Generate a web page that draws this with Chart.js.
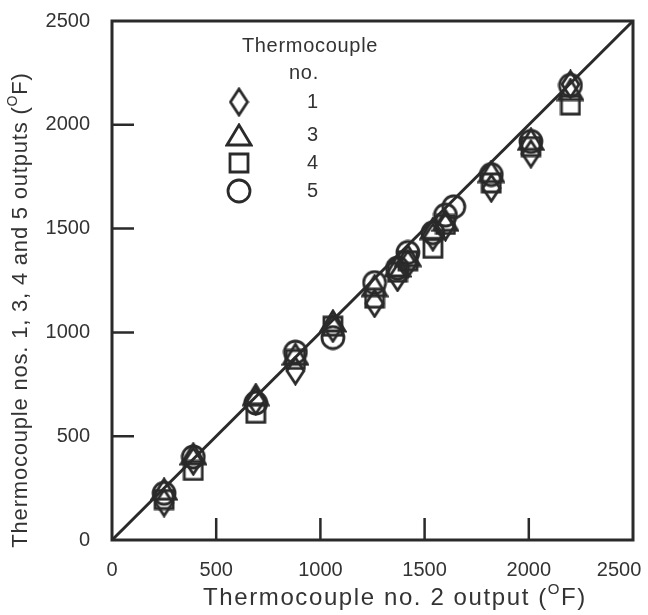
<!DOCTYPE html>
<html>
<head>
<meta charset="utf-8">
<script src="https://cdn.jsdelivr.net/npm/chart.js@4/dist/chart.umd.min.js"></script>
<style>
  html, body { margin: 0; padding: 0; background: #fff; }
  #wrap { width: 648px; height: 615px; }
</style>
</head>
<body>
<div id="wrap"><canvas id="chart" width="648" height="615"></canvas></div>
<script>
// thermocouple no. 2 readings (x) and the other thermocouples at the same moments
const tc2Output = [250, 390, 690, 880, 1060, 1260, 1370, 1420, 1540, 1600, 1640, 1820, 2010, 2200];
const tc1Output = [180, 380, 670, 815, 1020, 1140, 1265, 1330, 1460, 1510, null, 1695, 1860, 2195];
const tc3Output = [245, 415, 700, 895, 1055, 1225, 1320, 1370, 1500, 1540, null, 1775, 1930, 2170];
const tc4Output = [195, 335, 610, 870, 1030, 1165, 1290, 1345, 1405, 1520, null, 1720, 1895, 2095];
const tc5Output = [225, 400, 660, 905, 975, 1240, 1310, 1385, 1480, 1565, 1605, 1760, 1920, 2190];
const lineX = [0, 2500];
const lineY = [0, 2500];
const legendLabels = ['1', '3', '4', '5'];

const INK = '#2a2a2a';
const TEXT = '#333';
const FONT = "'Liberation Sans', Arial, Helvetica, sans-serif";

// open marker shapes, drawn once on small canvases
function makeMarker(kind) {
  const sizes = { diamond: [21, 30], triangle: [28, 24], square: [22, 22], circle: [26, 26] };
  const [w, h] = sizes[kind];
  const c = document.createElement('canvas');
  c.width = w; c.height = h;
  const g = c.getContext('2d');
  g.strokeStyle = INK;
  g.lineWidth = 2.8;
  g.lineJoin = 'miter';
  const p = 2;
  g.beginPath();
  if (kind === 'diamond') {
    g.moveTo(w / 2, p); g.lineTo(w - p, h / 2); g.lineTo(w / 2, h - p); g.lineTo(p, h / 2); g.closePath();
  } else if (kind === 'triangle') {
    g.moveTo(w / 2, p); g.lineTo(w - p, h - p); g.lineTo(p, h - p); g.closePath();
  } else if (kind === 'square') {
    g.rect(p, p, w - 2 * p, h - 2 * p);
  } else {
    g.arc(w / 2, h / 2, w / 2 - p, 0, Math.PI * 2);
  }
  g.stroke();
  return c;
}
const marks = [makeMarker('diamond'), makeMarker('triangle'), makeMarker('square'), makeMarker('circle')];

function toPoints(xs, ys) {
  const pts = [];
  xs.forEach((x, i) => { if (ys[i] != null) pts.push({ x: x, y: ys[i] }); });
  return pts;
}

function markerSet(label, ys, mark) {
  return {
    label: label,
    data: toPoints(tc2Output, ys),
    pointStyle: mark,
    pointRadius: 10,
    showLine: false
  };
}

// box round the plot, inward ticks
const framePlugin = {
  id: 'frame',
  beforeDatasetsDraw(chart) {
    const { ctx, chartArea: a, scales } = chart;
    ctx.save();
    ctx.strokeStyle = INK;
    ctx.lineWidth = 3;
    ctx.strokeRect(a.left, a.top, a.right - a.left, a.bottom - a.top);
    ctx.lineWidth = 2.5;
    ctx.beginPath();
    scales.x.ticks.forEach(t => {
      if (t.value <= 0 || t.value >= 2500) return;
      const px = scales.x.getPixelForValue(t.value);
      ctx.moveTo(px, a.bottom); ctx.lineTo(px, a.bottom - 22);
    });
    scales.y.ticks.forEach(t => {
      if (t.value <= 0 || t.value >= 2500) return;
      const py = scales.y.getPixelForValue(t.value);
      ctx.moveTo(a.left, py); ctx.lineTo(a.left + 22, py);
    });
    ctx.stroke();
    ctx.restore();
  }
};

// title with a raised "O" for degrees
function drawSupTitle(ctx, before, sup, after, cx, cy, rot, size, spacing) {
  ctx.save();
  ctx.translate(cx, cy);
  ctx.rotate(rot);
  ctx.fillStyle = TEXT;
  ctx.textBaseline = 'middle';
  ctx.textAlign = 'left';
  ctx.letterSpacing = spacing + 'px';
  const big = size + 'px ' + FONT;
  const small = Math.round(size * 0.62) + 'px ' + FONT;
  ctx.font = big;
  const w1 = ctx.measureText(before).width;
  const w3 = ctx.measureText(after).width;
  ctx.font = small;
  const w2 = ctx.measureText(sup).width;
  let x = -(w1 + w2 + w3) / 2;
  ctx.font = big;
  ctx.fillText(before, x, 0);
  x += w1;
  ctx.font = small;
  ctx.fillText(sup, x, -size * 0.35);
  x += w2;
  ctx.font = big;
  ctx.fillText(after, x, 0);
  ctx.restore();
}

const annotatePlugin = {
  id: 'annotate',
  afterDraw(chart) {
    const ctx = chart.ctx;
    drawSupTitle(ctx, 'Thermocouple no. 2 output (', 'O', 'F)', 395, 598, 0, 24, 1.6);
    drawSupTitle(ctx, 'Thermocouple nos. 1, 3, 4 and 5 outputs (', 'O', 'F)', 21, 310, -Math.PI / 2, 22, 0.8);

    // legend
    ctx.save();
    ctx.fillStyle = TEXT;
    ctx.textAlign = 'center';
    ctx.textBaseline = 'middle';
    ctx.font = '20px ' + FONT;
    ctx.letterSpacing = '0.7px';
    ctx.fillText('Thermocouple', 310, 46);
    ctx.fillText('no.', 304, 73);
    const rows = [102, 135, 163, 191];
    legendLabels.forEach((lab, i) => {
      const m = marks[i];
      ctx.drawImage(m, 239 - m.width / 2, rows[i] - m.height / 2);
      ctx.fillText(lab, 313, rows[i]);
    });
    ctx.restore();
  }
};

const tickFont = { family: FONT, size: 20 };

new Chart(document.getElementById('chart'), {
  type: 'scatter',
  data: {
    datasets: [
      {
        label: 'equal',
        data: toPoints(lineX, lineY),
        showLine: true,
        borderColor: INK,
        borderWidth: 3,
        pointRadius: 0
      },
      markerSet('1', tc1Output, marks[0]),
      markerSet('3', tc3Output, marks[1]),
      markerSet('4', tc4Output, marks[2]),
      markerSet('5', tc5Output, marks[3])
    ]
  },
  options: {
    responsive: false,
    animation: false,
    layout: { padding: { top: 21, right: 15, left: 0, bottom: 0 } },
    plugins: { legend: { display: false }, tooltip: { enabled: false } },
    scales: {
      x: {
        type: 'linear', min: 0, max: 2500,
        grid: { display: false }, border: { display: false },
        ticks: {
          stepSize: 500, padding: 10, color: TEXT, font: tickFont, maxRotation: 0, autoSkip: false,
          callback: v => v === 2500 ? '2500\u00a0\u00a0\u00a0\u00a0\u00a0' : String(v)
        },
        afterFit(s) { s.height = 75; s.paddingLeft = 0; s.paddingRight = 0; }
      },
      y: {
        type: 'linear', min: 0, max: 2500,
        grid: { display: false }, border: { display: false },
        ticks: { stepSize: 500, padding: 14, color: TEXT, font: tickFont, callback: v => String(v) },
        afterFit(s) { s.width = 112; s.paddingTop = 0; s.paddingBottom = 0; }
      }
    }
  },
  plugins: [framePlugin, annotatePlugin]
});
</script>
</body>
</html>
